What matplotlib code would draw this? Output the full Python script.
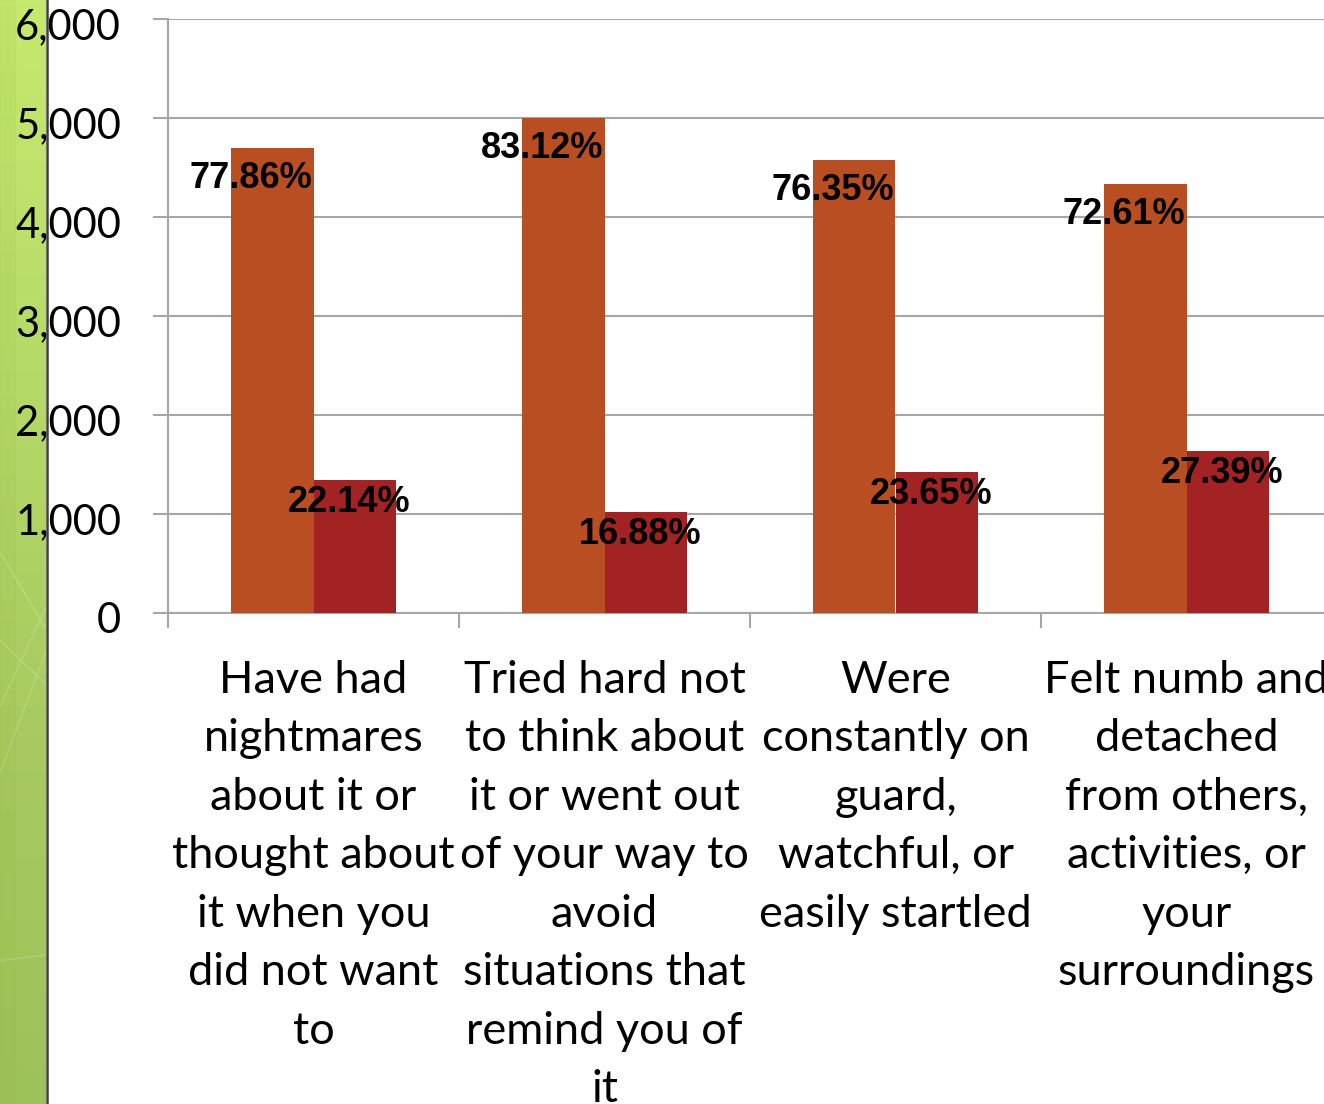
import numpy as np
import matplotlib
matplotlib.use("Agg")
import matplotlib.pyplot as plt
import matplotlib.transforms as mtransforms
from matplotlib.ticker import FuncFormatter, FixedLocator
from matplotlib.colors import LinearSegmentedColormap

# ---- data ----
categories = [
    "Have had\nnightmares\nabout it or\nthought about\nit when you\ndid not want\nto",
    "Tried hard not\nto think about\nit or went out\nof your way to\navoid\nsituations that\nremind you of\nit",
    "Were\nconstantly on\nguard,\nwatchful, or\neasily startled",
    "Felt numb and\ndetached\nfrom others,\nactivities, or\nyour\nsurroundings",
]
yes_values = [4700, 5000, 4576, 4333]
no_values = [1336, 1015, 1417, 1634]
yes_labels = ["77.86%", "83.12%", "76.35%", "72.61%"]
no_labels = ["22.14%", "16.88%", "23.65%", "27.39%"]
y_ticks = [0, 1000, 2000, 3000, 4000, 5000, 6000]

W, H = 1324, 1104
fig = plt.figure(figsize=(W / 100, H / 100), dpi=100)
fig.patch.set_facecolor("white")

# ---- green slide strip on the left ----
sax = fig.add_axes([0, 0, 46 / W, 1])
grad = np.linspace(0, 1, 256).reshape(-1, 1)
cmap = LinearSegmentedColormap.from_list("g", ["#c6ea6e", "#b6da68", "#a8ca60", "#9ec25a"])
sax.imshow(grad, aspect="auto", cmap=cmap, extent=[0, 1, 0, 1], origin="upper")
sax.axvspan(0, 0.33, color="#8fb43a", alpha=0.10)
for (x0, y0, x1, y1) in [(0, 0.50, 1, 0.43), (0, 0.36, 1, 0.45), (0, 0.30, 1, 0.41),
                         (0, 0.42, 1, 0.38), (0, 0.13, 1, 0.135)]:
    sax.plot([x0, x1], [y0, y1], color="white", alpha=0.18, lw=1)
sax.set_xlim(0, 1)
sax.set_ylim(0, 1)
sax.axis("off")
fig.add_artist(plt.Line2D([46.5 / W, 46.5 / W], [0, 1], color="#404040", lw=1.8))

# ---- main chart ----
left = 168 / W
right = 1332 / W
bottom = (H - 612.5) / H
top = (H - 19) / H
ax = fig.add_axes([left, bottom, right - left, top - bottom])

x = np.arange(len(categories))
bw = 0.285
c_yes = "#b84e22"
c_no = "#a32224"
ax.bar(x - bw / 2, yes_values, width=bw, color=c_yes, zorder=3)
ax.bar(x + bw / 2, no_values, width=bw, color=c_no, zorder=3)

ax.set_xlim(-0.5, 3.5)
ax.set_ylim(0, 6000)
ax.set_yticks(y_ticks)
ax.yaxis.set_major_formatter(FuncFormatter(lambda v, p: f"{int(v):,}"))

grid_c = "#a6a6a6"
ax.grid(axis="y", color=grid_c, lw=1.5, zorder=0)
for s in ["top", "right"]:
    ax.spines[s].set_visible(False)
for s in ["left", "bottom"]:
    ax.spines[s].set_color(grid_c)
    ax.spines[s].set_linewidth(1.5)
    ax.spines[s].set_zorder(1)

ax.tick_params(axis="y", length=10.8, width=1.5, color=grid_c, pad=23,
               labelsize=30, labelcolor="black")
shift = mtransforms.ScaledTranslation(0, -5 / 100, fig.dpi_scale_trans)
for lbl in ax.get_yticklabels():
    lbl.set_fontfamily("Lato")
    lbl.set_transform(lbl.get_transform() + shift)

ax.set_xticks(x)
ax.set_xticklabels(categories, fontsize=32.5, fontfamily="Lato", linespacing=1.53)
ax.tick_params(axis="x", which="major", length=0, pad=34)
ax.xaxis.set_minor_locator(FixedLocator([-0.5, 0.5, 1.5, 2.5]))
ax.tick_params(axis="x", which="minor", length=11, width=1.5, color=grid_c)

# data labels
for i in range(len(categories)):
    ax.annotate(yes_labels[i], (x[i] - bw / 2, yes_values[i]),
                xytext=(-15, -22), textcoords="offset points",
                ha="center", va="center", fontsize=26, fontweight="bold",
                fontfamily="Liberation Sans", color="black", zorder=5,
                annotation_clip=False)
    ax.annotate(no_labels[i], (x[i] + bw / 2, no_values[i]),
                xytext=(-4, -16), textcoords="offset points",
                ha="center", va="center", fontsize=26, fontweight="bold",
                fontfamily="Liberation Sans", color="black", zorder=5,
                annotation_clip=False)

fig.savefig("out.png", dpi=100)
